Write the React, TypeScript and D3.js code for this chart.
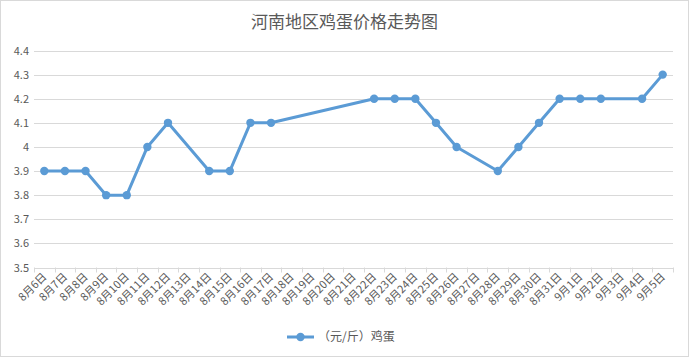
import React from "react";
import * as d3 from "d3";

const categories: string[] = [
  "8月6日","8月7日","8月8日","8月9日","8月10日","8月11日","8月12日","8月13日","8月14日","8月15日",
  "8月16日","8月17日","8月18日","8月19日","8月20日","8月21日","8月22日","8月23日","8月24日","8月25日",
  "8月26日","8月27日","8月28日","8月29日","8月30日","8月31日","9月1日","9月2日","9月3日","9月4日","9月5日",
];
const values: (number | null)[] = [
  3.9, 3.9, 3.9, 3.8, 3.8, 4.0, 4.1, null, 3.9, 3.9,
  4.1, 4.1, null, null, null, null, 4.2, 4.2, 4.2, 4.1,
  4.0, null, 3.9, 4.0, 4.1, 4.2, 4.2, 4.2, null, 4.2, 4.3,
];
const yTicks: number[] = [3.5, 3.6, 3.7, 3.8, 3.9, 4, 4.1, 4.2, 4.3, 4.4];
const title = "河南地区鸡蛋价格走势图";
const seriesName = "（元/斤）鸡蛋";

const W = 689, H = 357;
const left = 34, right = 673, top = 50.5, bottom = 267.5;
const color = "#5B9BD5";
const font = "'Noto Sans CJK SC', 'Noto Sans', sans-serif";

export default function App() {
  const x = d3.scaleBand<string>().domain(categories).range([left, right]).paddingInner(0).paddingOuter(0);
  const y = d3.scaleLinear().domain([3.5, 4.4]).range([bottom, top]);
  const cx = (c: string) => (x(c) as number) + x.bandwidth() / 2;
  const pts = categories
    .map((c, i) => ({ c, v: values[i] }))
    .filter((d) => d.v !== null) as { c: string; v: number }[];
  const line = d3.line<{ c: string; v: number }>().x((d) => cx(d.c)).y((d) => y(d.v));
  const fmt = (v: number) => (Math.abs(v - 4) < 1e-9 ? "4" : v.toFixed(1));
  const boundaries = categories.map((c) => x(c) as number).concat([right]);

  return (
    <svg width={W} height={H} style={{ position: "absolute", left: 0, top: 0, display: "block" }} fontFamily={font}>
      <rect x={0.5} y={0.5} width={W - 1} height={H - 1} fill="#fff" stroke="#d9d9d9" />
      <text x={W / 2} y={28} textAnchor="middle" fontSize={17} fill="#595959">{title}</text>
      {yTicks.map((t) => (
        <g key={t}>
          {t > 3.5 && <line x1={left} x2={right} y1={Math.round(y(t)) + 0.5} y2={Math.round(y(t)) + 0.5} stroke="#d9d9d9" />}
          <text x={29} y={y(t) + 4} textAnchor="end" fontSize={11} fill="#595959">{fmt(t)}</text>
        </g>
      ))}
      <line x1={left} x2={right} y1={Math.round(bottom) + 0.5} y2={Math.round(bottom) + 0.5} stroke="#d9d9d9" />
      {boundaries.map((b, i) => (
        <line key={i} x1={Math.round(b) + 0.5} x2={Math.round(b) + 0.5} y1={bottom} y2={bottom + 5} stroke="#d9d9d9" />
      ))}
      {categories.map((c) => (
        <text key={c} transform={`translate(${cx(c) + 3},${bottom + 10}) rotate(-45)`} textAnchor="end" fontSize={11} fill="#595959">{c}</text>
      ))}
      <path d={line(pts) || ""} fill="none" stroke={color} strokeWidth={3} strokeLinejoin="round" />
      {pts.map((d) => (
        <circle key={d.c} cx={cx(d.c)} cy={y(d.v)} r={4.2} fill={color} />
      ))}
      <line x1={287} x2={314} y1={337} y2={337} stroke={color} strokeWidth={3} />
      <circle cx={300.5} cy={337} r={4.2} fill={color} />
      <text x={318} y={341} fontSize={12} fill="#595959">{seriesName}</text>
    </svg>
  );
}
